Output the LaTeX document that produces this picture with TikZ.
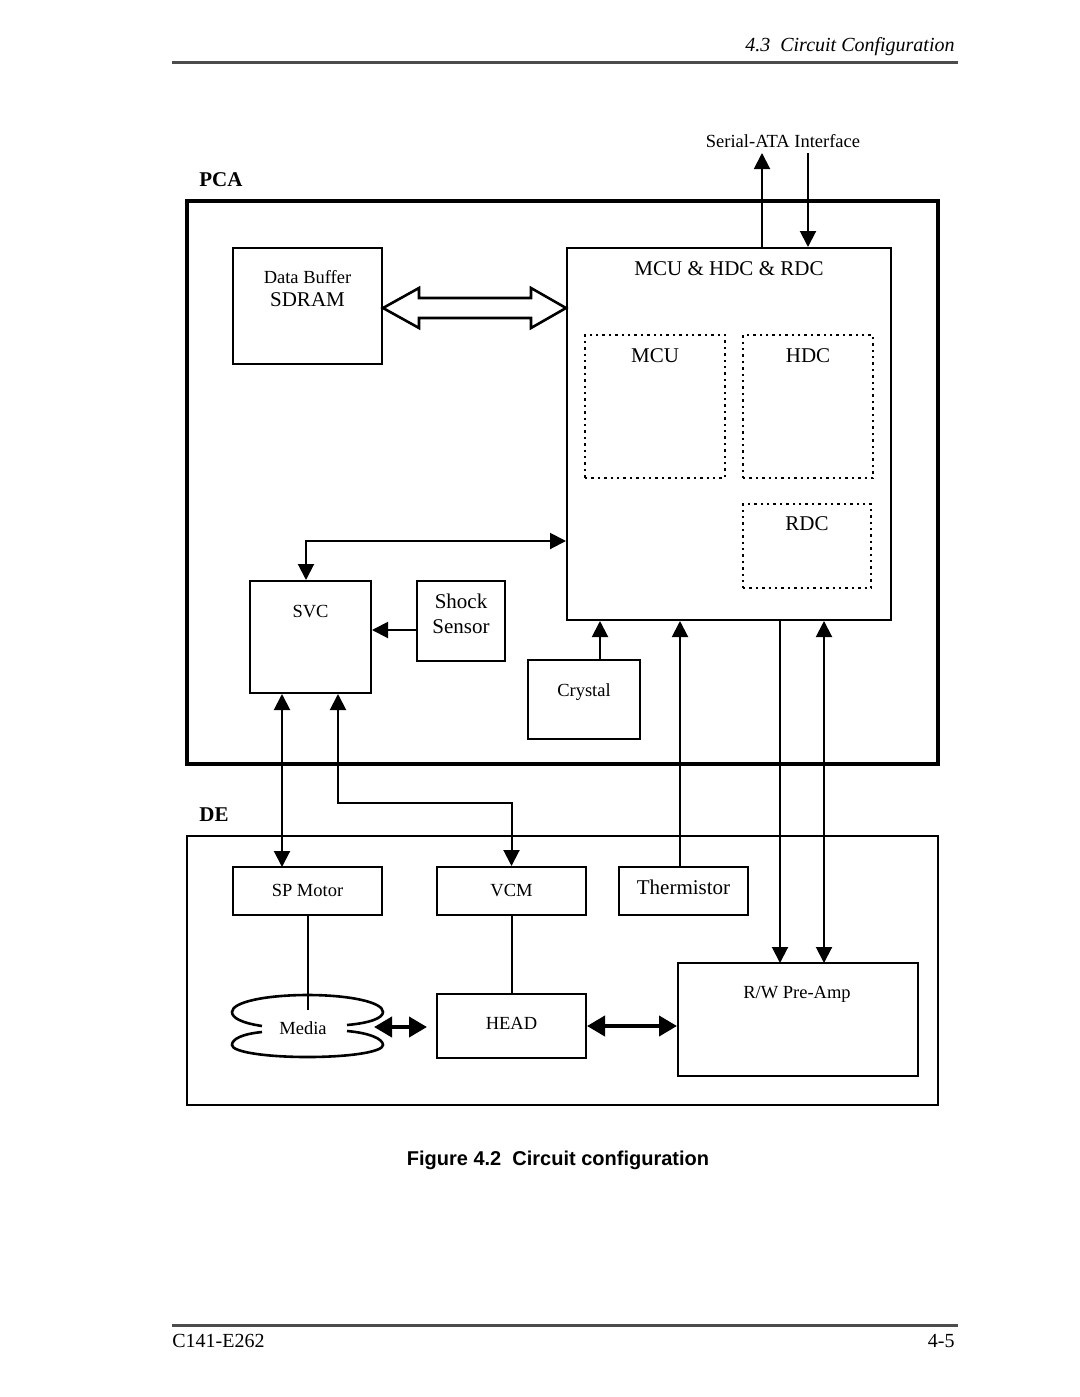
\documentclass[tikz,border=0pt]{standalone}
\usepackage{fontspec}
\setmainfont{Liberation Serif}
\newfontfamily\capfont{Liberation Sans}
\usetikzlibrary{arrows.meta,fit}
\begin{document}
\begin{tikzpicture}[x=0.5pt,y=-0.5pt,
  box/.style={draw,line width=1pt,inner sep=0pt},
  dbox/.style={draw,line width=1.2pt,dotted,inner sep=0pt},
  small/.style={font=\fontsize{9.25pt}{11pt}\selectfont,inner sep=0pt,text height=0.68em,text depth=0pt},
  large/.style={font=\fontsize{10.5pt}{12pt}\selectfont,inner sep=0pt,text height=0.68em,text depth=0pt},
  conn/.style={line width=1pt},
  tip/.style={-{Triangle[length=8pt,width=8pt]}},
  tips/.style={{Triangle[length=8pt,width=8pt]}-{Triangle[length=8pt,width=8pt]}},
  thick2/.style={line width=2pt,{Triangle[length=9pt,width=10pt]}-{Triangle[length=9pt,width=10pt]}},
  rule/.style={draw=black!70,line width=1.5pt}]
\useasboundingbox (0,0) rectangle (1080,1397);
% page header / footer
\coordinate (hl) at (172,62); \coordinate (hr) at (958,62);
\draw[rule] (hl) -- (hr);
\node[anchor=east,inner sep=0pt,font=\fontsize{10pt}{12pt}\selectfont\itshape] (hdr) at (955,47) {4.3\ \ Circuit Configuration};
\coordinate (fl) at (172,1325); \coordinate (fr) at (958,1325);
\draw[rule] (fl) -- (fr);
\node[anchor=west,inner sep=0pt,font=\fontsize{10pt}{12pt}\selectfont] (docno) at (172,1341) {C141-E262};
\node[anchor=east,inner sep=0pt,font=\fontsize{10pt}{12pt}\selectfont] (pageno) at (955,1341) {4-5};
\node[inner sep=0pt,font=\capfont\bfseries\fontsize{10pt}{12pt}\selectfont] (caption) at (558,1160) {Figure 4.2\ \ Circuit configuration};
% group boxes
\node[anchor=west,inner sep=0pt,font=\fontsize{10.5pt}{12pt}\selectfont\bfseries] (pcalbl) at (199,180) {PCA};
\node[anchor=west,inner sep=0pt,font=\fontsize{10.5pt}{12pt}\selectfont\bfseries] (delbl) at (199,815) {DE};
\node[draw,line width=2pt,inner sep=0pt,fit={(187,201)(938,764)}] (pca) {};
\node[draw,line width=1.3pt,inner sep=0pt,fit={(187,836)(938,1105)}] (de) {};
% PCA blocks
\node[box,fit={(233,248)(382,364)}] (sdram) {};
\node[small] (sdramt1) at (307.5,277) {Data Buffer};
\node[large] (sdramt2) at (307.5,300) {SDRAM};
\node[box,fit={(567,248)(891,620)}] (mcuhdc) {};
\node[large] (mcuhdct) at (729,269) {MCU \& HDC \& RDC};
\node[dbox,fit={(585,335)(725,478)}] (mcu) {};
\node[large] (mcut) at (655,356) {MCU};
\node[dbox,fit={(743,335)(873,478)}] (hdc) {};
\node[large] (hdct) at (808,356) {HDC};
\node[dbox,fit={(743,504)(871,588)}] (rdc) {};
\node[large] (rdct) at (807,524) {RDC};
\node[box,fit={(250,581)(371,693)}] (svc) {};
\node[small] (svct) at (310.5,611) {SVC};
\node[box,fit={(417,581)(505,661)}] (shock) {};
\node[large] (shockt1) at (461,602) {Shock};
\node[large] (shockt2) at (461,627) {Sensor};
\node[box,fit={(528,660)(640,739)}] (crystal) {};
\node[small] (crystalt) at (584,690) {Crystal};
\node[small] (satat) at (783,141) {Serial-ATA Interface};
% DE blocks
\node[box,fit={(233,867)(382,915)}] (spm) {};
\node[small] (spmt) at (307.5,890) {SP Motor};
\node[box,fit={(437,867)(586,915)}] (vcm) {};
\node[small] (vcmt) at (511.5,890) {VCM};
\node[box,fit={(619,867)(748,915)}] (therm) {};
\node[large] (thermt) at (683.5,888) {Thermistor};
\node[box,fit={(437,994)(586,1058)}] (head) {};
\node[small] (headt) at (511.5,1023) {HEAD};
\node[box,fit={(678,963)(918,1076)}] (rw) {};
\node[small] (rwt) at (797,992) {R/W Pre-Amp};
\node[small] (mediat) at (303,1028) {Media};
% media symbol
\draw[line width=1.3pt] (262,1026) .. controls (242,1023) and (232,1018) .. (232,1012)
  .. controls (232,1002) and (266,995) .. (307.5,995)
  .. controls (349,995) and (383,1002) .. (383,1012)
  .. controls (383,1018) and (370,1023) .. (347,1025);
\draw[line width=1.3pt] (262,1032) .. controls (242,1034) and (232,1039) .. (232,1045)
  .. controls (232,1052) and (266,1057) .. (307.5,1057)
  .. controls (349,1057) and (383,1052) .. (383,1045)
  .. controls (383,1039) and (370,1033) .. (347,1031);
% hollow bus arrow SDRAM <-> MCU
\draw[line width=1.3pt,fill=white] (sdram.east |- 0,308) -- (419,288) -- (419,298) -- (531,298) -- (531,288)
  -- (mcuhdc.west |- 0,308) -- (531,328) -- (531,318) -- (419,318) -- (419,328) -- cycle;
% connectors
\coordinate (sataup) at (762,153);
\coordinate (satadn) at (808,153);
\draw[conn,tip] (mcuhdc.north -| sataup) -- (sataup);
\draw[conn,tip] (satadn) -- (mcuhdc.north -| satadn);
\coordinate (svcbend) at (306,541);
\draw[conn,tips] (svc.north -| svcbend) -- (svcbend) -- (mcuhdc.west |- svcbend);
\coordinate (shockout) at (417,630);
\draw[conn,tip] (shockout) -- (svc.east |- shockout);
\coordinate (crysout) at (600,660);
\draw[conn,tip] (crysout) -- (mcuhdc.south -| crysout);
\coordinate (thermout) at (680,867);
\draw[conn,tip] (thermout) -- (mcuhdc.south -| thermout);
\coordinate (rwa) at (780,963);
\draw[conn,tip] (mcuhdc.south -| rwa) -- (rwa);
\coordinate (rwb) at (824,963);
\draw[conn,tips] (mcuhdc.south -| rwb) -- (rwb);
\coordinate (spmlink) at (282,867);
\draw[conn,tips] (svc.south -| spmlink) -- (spmlink);
\coordinate (vcmbend1) at (338,803);
\coordinate (vcmbend2) at (511.5,803);
\draw[conn,tips] (svc.south -| vcmbend1) -- (vcmbend1) -- (vcmbend2) -- (vcm.north);
\coordinate (mediatop) at (307.5,1010);
\draw[conn] (spm.south) -- (mediatop);
\draw[conn] (vcm.south) -- (head.north);
\coordinate (medr) at (374,1027);
\coordinate (headl) at (427,1027);
\draw[thick2] (medr) -- (headl);
\draw[thick2] (head.east) -- (rw.west |- head.east);
\end{tikzpicture}
\end{document}
